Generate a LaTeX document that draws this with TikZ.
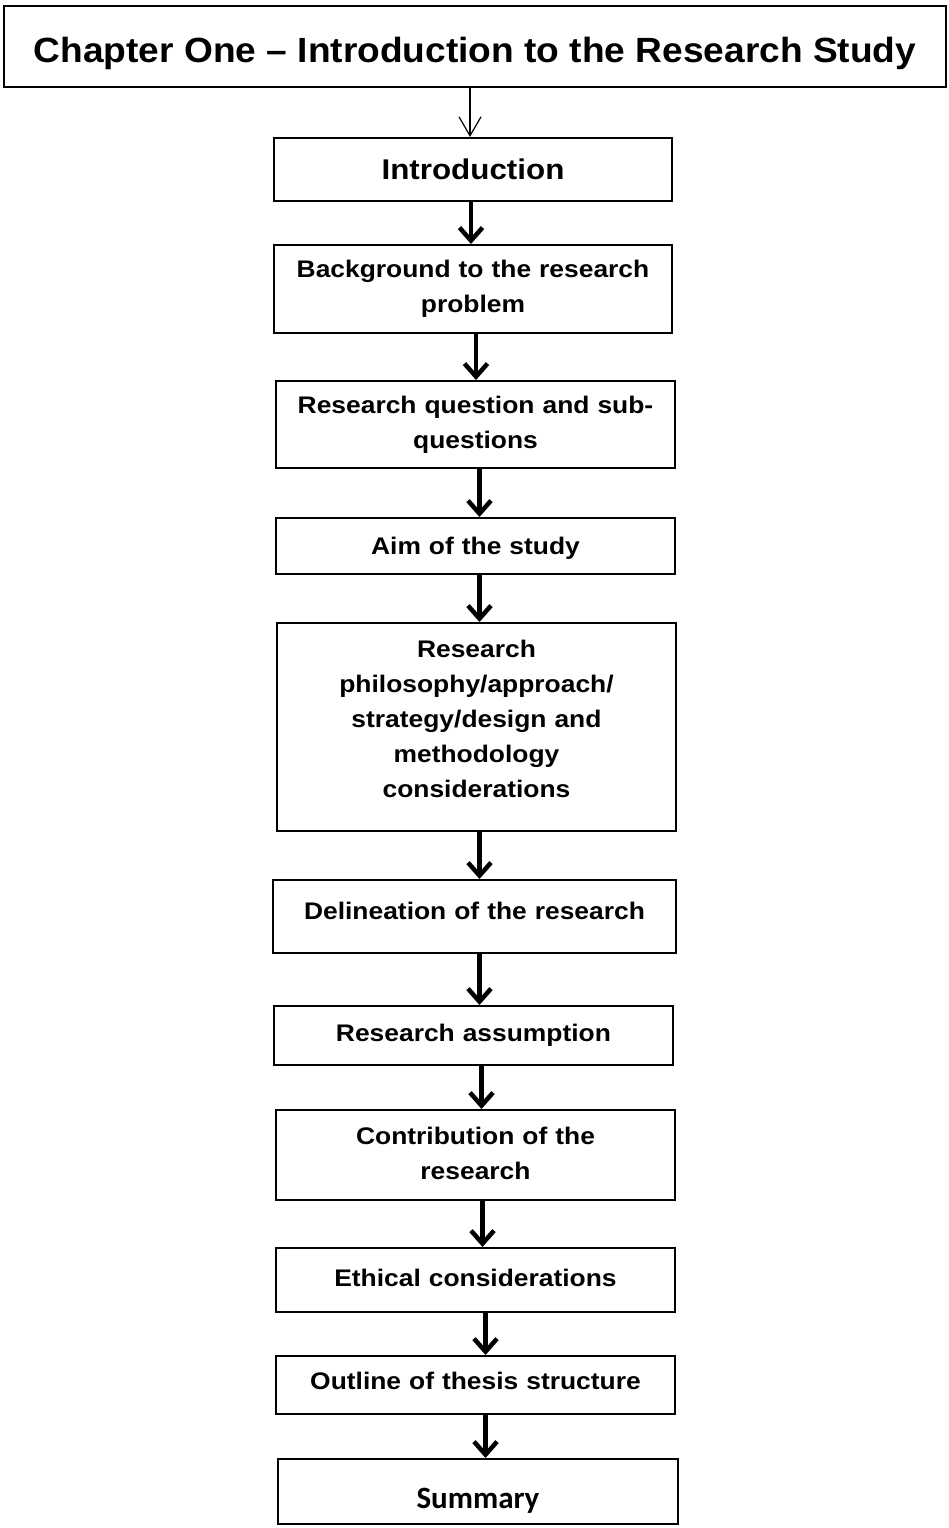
\documentclass[tikz,border=0pt]{standalone}
\usepackage{fontspec}
\setmainfont{Liberation Sans}
\newfontfamily\boxfont{Liberation Sans}[FakeStretch=1.1]
\newfontfamily\titlefont{Liberation Sans}[FakeStretch=1.06]
\newfontfamily\sumfont{Carlito}
\usetikzlibrary{arrows.meta}
% shift a line vertically without changing its box size
\newcommand{\nudge}[2]{\raisebox{#1}[\height][\depth]{#2}}
\begin{document}
\begin{tikzpicture}[x=1pt,y=-1pt,
  box/.style={draw=black, line width=2pt, fill=white, inner sep=0pt,
    anchor=north west, align=center},
  stagebox/.style={box, text width=#1, font=\boxfont\bfseries\fontsize{24}{35}\selectfont},
  thinflow/.style={draw=black, line width=1.2pt,
    -{Straight Barb[length=19pt,width=22pt,line width=1.2pt]}},
  flow/.style={draw=black, line width=4.5pt,
    -{Straight Barb[length=13pt,width=23pt,line width=4.5pt]}}
]
\useasboundingbox (0,0) rectangle (948,1528);

% title
\node[box, minimum width=942pt, minimum height=81pt,
  font=\titlefont\bfseries\fontsize{35}{40}\selectfont] (title) at (3,5)
  {\nudge{-7pt}{Chapter One – Introduction to the Research Study}};

% stages
\node[box, minimum width=398pt, minimum height=63pt,
  font=\boxfont\bfseries\fontsize{28.5}{34}\selectfont] (intro) at (273,137) {Introduction};
\node[stagebox=380pt, minimum width=398pt, minimum height=88pt] (bg) at (273,244)
  {Background to the research\\problem};
\node[stagebox=380pt, minimum width=399pt, minimum height=87pt] (rq) at (275,380)
  {Research question and sub-\\questions};
\node[stagebox=380pt, minimum width=399pt, minimum height=56pt] (aim) at (275,517)
  {\nudge{-2pt}{Aim of the study}};
\node[stagebox=380pt, minimum width=399pt, minimum height=208pt] (phil) at (276,622)
  {\nudge{8pt}{Research}\\\nudge{8pt}{philosophy/approach/}\\\nudge{8pt}{strategy/design and}\\\nudge{8pt}{methodology}\\\nudge{8pt}{considerations}};
\node[stagebox=390pt, minimum width=403pt, minimum height=73pt] (del) at (272,879)
  {\nudge{5.5pt}{Delineation of the research}};
\node[stagebox=380pt, minimum width=399pt, minimum height=59pt] (ass) at (273,1005)
  {Research assumption};
\node[stagebox=380pt, minimum width=399pt, minimum height=90pt] (con) at (275,1109)
  {\nudge{2pt}{Contribution of the}\\\nudge{2pt}{research}};
\node[stagebox=380pt, minimum width=399pt, minimum height=64pt] (eth) at (275,1247)
  {\nudge{2pt}{Ethical considerations}};
\node[stagebox=380pt, minimum width=399pt, minimum height=58pt] (out) at (275,1355)
  {\nudge{4pt}{Outline of thesis structure}};
\node[box, minimum width=400pt, minimum height=65pt,
  font=\sumfont\bfseries\fontsize{31}{34}\selectfont] (sum) at (277,1458)
  {\nudge{-9pt}{Summary}};

% connectors
\draw[thinflow] ([xshift=-5pt]title.south) -- ([xshift=-5pt]title.south |- intro.north);
\draw[flow] ([xshift=-2pt]intro.south) -- ([xshift=-2pt]intro.south |- bg.north);
\draw[flow] ([xshift=3pt]bg.south) -- ([xshift=3pt]bg.south |- rq.north);
\draw[flow] ([xshift=4pt]rq.south) -- ([xshift=4pt]rq.south |- aim.north);
\draw[flow] ([xshift=4pt]aim.south) -- ([xshift=4pt]aim.south |- phil.north);
\draw[flow] ([xshift=3pt]phil.south) -- ([xshift=3pt]phil.south |- del.north);
\draw[flow] ([xshift=5pt]del.south) -- ([xshift=5pt]del.south |- ass.north);
\draw[flow] ([xshift=8pt]ass.south) -- ([xshift=8pt]ass.south |- con.north);
\draw[flow] ([xshift=7pt]con.south) -- ([xshift=7pt]con.south |- eth.north);
\draw[flow] ([xshift=10pt]eth.south) -- ([xshift=10pt]eth.south |- out.north);
\draw[flow] ([xshift=10pt]out.south) -- ([xshift=10pt]out.south |- sum.north);
\end{tikzpicture}
\end{document}
